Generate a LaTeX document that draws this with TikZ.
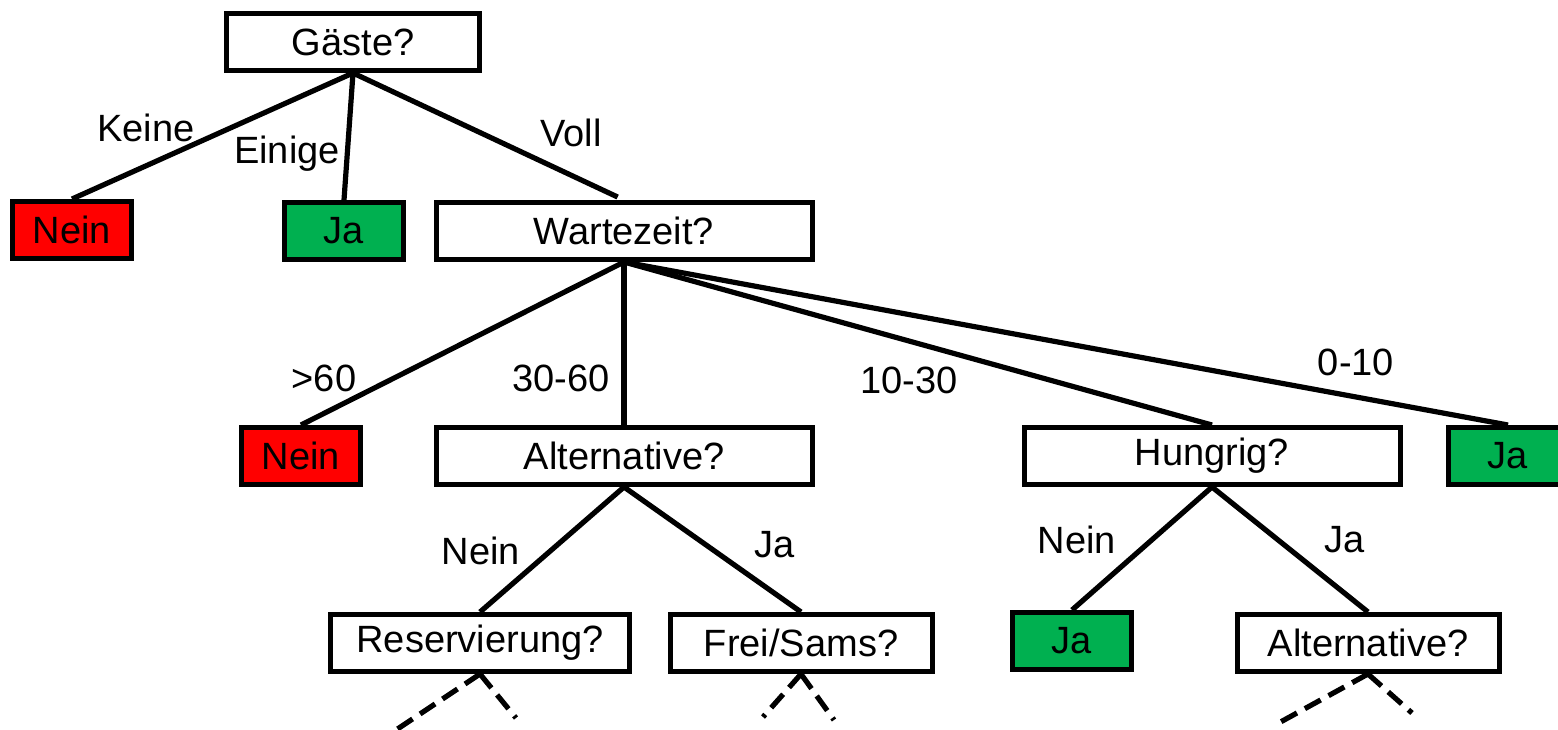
\documentclass[tikz,border=0pt]{standalone}
\usepackage{fontspec}
\setmainfont{Liberation Sans}
\definecolor{neinred}{RGB}{255,0,0}
\definecolor{jagreen}{RGB}{0,176,80}

\begin{document}
\begin{tikzpicture}[x=0.5pt, y=-0.5pt,
        box/.style={draw, line width=2.5pt, minimum height=28.5pt, inner sep=0pt, font=\fontsize{19}{22}\selectfont},
        nein/.style={box, fill=neinred, minimum width=59.5pt},
        ja/.style={box, fill=jagreen, minimum width=59.5pt},
        lbl/.style={inner sep=0pt, font=\fontsize{19}{22}\selectfont},
        edge/.style={line width=2.6pt},
        open/.style={line width=2.6pt, dash pattern=on 9pt off 4.5pt}]
        \useasboundingbox (0,0) rectangle (1558,729);

        % question boxes
        \node[box, minimum width=126.5pt] (gaeste) at (353,42) {Gäste?};
        \node[box, minimum width=188pt] (warte) at (624,231) {Wartezeit?};
        \node[box, minimum width=188pt] (alt) at (624,456) {Alternative?};
        \node[box, minimum width=188pt] (hungrig) at (1212,456) {Hungrig?};
        \node[box, minimum width=149.5pt] (reserv) at (480,643) {Reservierung?};
        \node[box, minimum width=131pt] (frei) at (801,643) {Frei/Sams?};
        \node[box, minimum width=131pt] (alttwo) at (1368,643) {Alternative?};

        % leaves
        \node[nein] (neinA) at (72,230) {Nein};
        \node[ja] (jaA) at (344,231) {Ja};
        \node[nein] (neinB) at (301,456) {Nein};
        \node[ja] (jaB) at (1508,456) {Ja};
        \node[ja] (jaC) at (1072,641) {Ja};

        % branches
        \draw[edge] (gaeste.south) -- (neinA.north);
        \draw[edge] (gaeste.south) -- (jaA.north);
        \draw[edge, shorten >=3.5pt] (gaeste.south) -- (warte.north);
        \draw[edge] (warte.south) -- (neinB.north);
        \draw[edge] (warte.south) -- (alt.north);
        \draw[edge] (warte.south) -- (hungrig.north);
        \draw[edge] (warte.south) -- (jaB.north);
        \draw[edge] (alt.south) -- (reserv.north);
        \draw[edge] (alt.south) -- (frei.north);
        \draw[edge] (hungrig.south) -- (jaC.north);
        \draw[edge] (hungrig.south) -- (alttwo.north);

        % open subtrees
        \coordinate (rL) at (396,730);
        \coordinate (rR) at (516,718);
        \coordinate (fL) at (763,717);
        \coordinate (fR) at (834,720);
        \coordinate (aL) at (1275,725);
        \coordinate (aR) at (1412,713);
        \draw[open] (reserv.south) -- (rL);
        \draw[open] (reserv.south) -- (rR);
        \draw[open] (frei.south) -- (fL);
        \draw[open] (frei.south) -- (fR);
        \draw[open] (alttwo.south) -- (aL);
        \draw[open] (alttwo.south) -- (aR);

        % branch labels
        \node[lbl] (keine) at (146,128) {Keine};
        \node[lbl] (einige) at (287,154) {Einige};
        \node[lbl] (voll) at (571,133) {Voll};
        \node[lbl] (ueber60) at (324,378) {>60};
        \node[lbl] (w3060) at (561,378) {30-60};
        \node[lbl] (w1030) at (909,380) {10-30};
        \node[lbl] (w010) at (1356,362) {0-10};
        \node[lbl] (altnein) at (481,551) {Nein};
        \node[lbl] (altja) at (775,545) {Ja};
        \node[lbl] (hunnein) at (1077,540) {Nein};
        \node[lbl] (hunja) at (1345,540) {Ja};
\end{tikzpicture}
\end{document}
